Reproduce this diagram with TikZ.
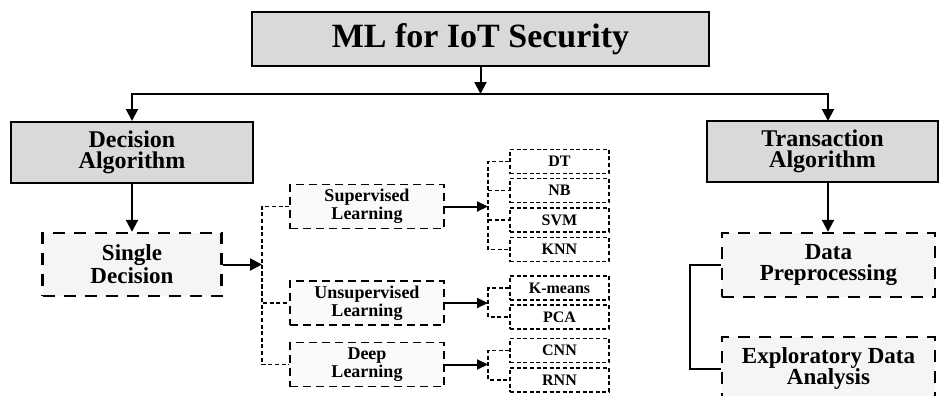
\documentclass[tikz,border=0pt]{standalone}
\usepackage{fontspec}
\setmainfont{Liberation Serif}
\usetikzlibrary{arrows.meta}

\begin{document}
\begin{tikzpicture}[x=0.5pt,y=-0.5pt,
    graybox/.style={draw, line width=1pt, fill=black!15, inner sep=0pt, align=center,
      font=\fontsize{12}{10.5}\selectfont\bfseries},
    mainbox/.style={draw, line width=1.2pt, dash pattern=on 6pt off 4.5pt, fill=black!4,
      inner sep=0pt, align=center, font=\fontsize{11.5}{10.5}\selectfont\bfseries},
    midbox/.style={draw, line width=0.9pt, dash pattern=on 4pt off 2.5pt, fill=black!2,
      minimum width=77pt, minimum height=22pt, inner sep=0pt, align=center,
      font=\fontsize{9}{7.5}\selectfont\bfseries},
    leafbox/.style={draw, line width=0.7pt, dash pattern=on 2pt off 1.3pt, fill=white,
      minimum width=49.5pt, minimum height=12pt, inner sep=0pt,
      font=\fontsize{8}{9}\selectfont\bfseries},
    arr/.style={line width=1pt, -{Triangle[length=6pt,width=6pt]}},
    sarr/.style={line width=1pt, -{Triangle[length=5.5pt,width=5pt]}},
    dotline/.style={line width=0.8pt, dash pattern=on 2pt off 1.3pt}]
  \useasboundingbox (0,0) rectangle (939,396);

  \node[graybox, minimum width=228.5pt, minimum height=27pt,
    font=\fontsize{17}{20}\selectfont\bfseries] (ml) at (480.5,39) {ML for IoT Security};
  \node[graybox, minimum width=121pt, minimum height=30.5pt] (dec) at (132,152.5) {Decision\\Algorithm};
  \node[graybox, minimum width=115.5pt, minimum height=30.5pt] (trans) at (822.5,151.5) {Transaction\\Algorithm};
  \node[mainbox, minimum width=89.5pt, minimum height=31.5pt] (single) at (132,264.5) {Single\\Decision};

  \node[midbox] (sup) at (367,206.5) {Supervised\\Learning};
  \node[midbox] (uns) at (367,303) {Unsupervised\\Learning};
  \node[midbox] (deep) at (367,364.5) {Deep\\Learning};

  \foreach \name/\txt/\y in {dt/DT/161.5, nb/NB/190.5, svm/SVM/220, knn/KNN/249.5,
      kmeans/K-means/288, pca/PCA/317, cnn/CNN/350.5, rnn/RNN/380}
    \node[leafbox] (\name) at (559.5,\y) {\txt};

  \node[mainbox, minimum width=106.5pt, minimum height=32pt] (prep) at (828.5,265) {Data\\Preprocessing};
  \node[mainbox, minimum width=106.5pt, minimum height=32pt] (eda) at (828.5,369) {Exploratory Data\\Analysis};

  \coordinate (mid) at (480.5,94);
  \coordinate (tin) at (828,121);
  \coordinate (s1) at (262,264.5);
  \coordinate (s2) at (488,206.5);
  \coordinate (s3) at (488,303);
  \coordinate (s4) at (488,364.5);
  \coordinate (s5) at (690,265);

  \draw[arr] (ml.south) -- (mid);
  \draw[arr] (mid) -| (dec.north);
  \draw[arr] (mid) -| (tin);
  \draw[arr] (dec.south) -- (single.north);
  \draw[arr] (single.east) -- (s1);
  \draw[dotline] (sup.west) -| (s1) |- (deep.west);
  \draw[dotline] (s1) |- (uns.west);

  \draw[sarr] (sup.east) -- (s2);
  \draw[sarr] (uns.east) -- (s3);
  \draw[sarr] (deep.east) -- (s4);
  \draw[dotline] (dt.west) -| (s2) |- (knn.west);
  \draw[dotline] (s2|-nb) -- (nb.west);
  \draw[dotline] (s2|-svm) -- (svm.west);
  \draw[dotline] (kmeans.west) -| (s3) |- (pca.west);
  \draw[dotline] (cnn.west) -| (s4) |- (rnn.west);

  \draw[arr] (tin|-trans.south) -- (tin|-prep.north);
  \draw[line width=1pt] (prep.west) -- (s5) |- (eda.west);
\end{tikzpicture}
\end{document}
